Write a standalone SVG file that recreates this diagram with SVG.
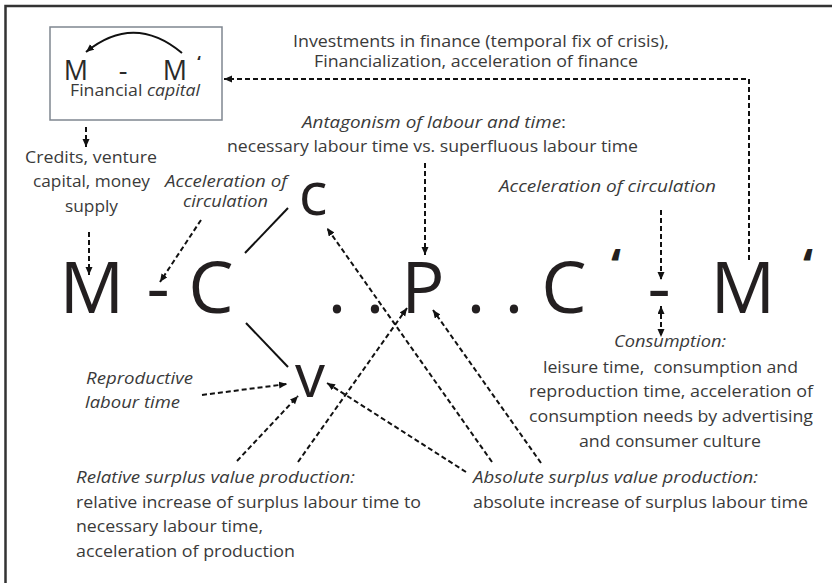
<svg xmlns="http://www.w3.org/2000/svg" width="832" height="583" viewBox="0 0 832 583">
  <style>
    .t { font-family: "Open Sans", "Noto Sans", sans-serif; font-size: 17px; fill: #3a3a3a; }
    .i { font-style: italic; }
    .big { font-family: "Open Sans", "Noto Sans", sans-serif; font-size: 72px; fill: #231f20; text-anchor: middle; }
    .mid { font-family: "Open Sans", "Noto Sans", sans-serif; font-size: 60px; fill: #231f20; text-anchor: middle; }
    .q { font-family: "Open Sans", "Noto Sans", sans-serif; font-size: 46px; font-weight: 700; fill: #231f20; text-anchor: middle; }
    .bx { font-family: "Open Sans", "Noto Sans", sans-serif; font-size: 27px; fill: #2a2a2a; text-anchor: middle; }
    .bq { font-family: "Open Sans", "Noto Sans", sans-serif; font-size: 16px; font-weight: 700; fill: #2a2a2a; text-anchor: middle; }
    .d { fill: none; stroke: #111; stroke-width: 2; stroke-dasharray: 5 3; }
    .s { fill: none; stroke: #111; stroke-width: 2; }
    .a { marker-end: url(#ah); }
  </style>
  <defs>
    <marker id="ah" markerUnits="userSpaceOnUse" markerWidth="9" markerHeight="8" refX="8" refY="3.5" orient="auto-start-reverse">
      <path d="M0,0 L8,3.5 L0,7 z" fill="#111"/>
    </marker>
  </defs>

  <path d="M5.5,583 V6 H832" fill="none" stroke="#333" stroke-width="2.5"/>

  <g id="financial-capital">
    <rect x="50" y="27" width="172" height="93" fill="#fff" stroke="#7f8690" stroke-width="1.5"/>
    <path d="M182,53 Q134,13 86,52" class="s a"/>
    <text class="bx" x="76" y="80">M</text>
    <text class="bx" x="123" y="80">-</text>
    <text class="bx" x="175" y="80">M</text>
    <text class="bq" x="199" y="68">‘</text>
    <text class="t" x="70" y="96" textLength="130" lengthAdjust="spacingAndGlyphs">Financial <tspan class="i">capital</tspan></text>
  </g>

  <g id="formula">
    <text class="big" x="92" y="313">M</text>
    <text class="big" x="158" y="313">-</text>
    <text class="big" x="211" y="313">C</text>
    <text class="big" x="337" y="313">.</text>
    <text class="big" x="375" y="313">.</text>
    <text class="big" x="423" y="313">P</text>
    <text class="big" x="476" y="313">.</text>
    <text class="big" x="514" y="313">.</text>
    <text class="big" x="564" y="313">C</text>
    <text class="q" x="616" y="282">‘</text>
    <text class="big" x="659" y="313">-</text>
    <text class="big" x="743" y="313">M</text>
    <text class="q" x="808" y="282">‘</text>
  </g>

  <g id="node-c">
    <text class="mid" x="313" y="215">c</text>
  </g>
  <g id="node-v">
    <text class="mid" x="310" y="397">v</text>
  </g>

  <g id="label-finance">
    <text class="t" x="293" y="47" textLength="376" lengthAdjust="spacingAndGlyphs">Investments in finance (temporal fix of crisis),</text>
    <text class="t" x="314" y="67" textLength="324" lengthAdjust="spacingAndGlyphs">Financialization, acceleration of finance</text>
  </g>
  <g id="label-antagonism">
    <text class="t" x="302" y="128" textLength="264" lengthAdjust="spacingAndGlyphs"><tspan class="i">Antagonism of labour and time</tspan>:</text>
    <text class="t" x="227" y="152" textLength="411" lengthAdjust="spacingAndGlyphs">necessary labour time vs. superfluous labour time</text>
  </g>
  <g id="label-credits">
    <text class="t" x="25" y="163" textLength="132" lengthAdjust="spacingAndGlyphs">Credits, venture</text>
    <text class="t" x="33" y="187" textLength="117" lengthAdjust="spacingAndGlyphs">capital, money</text>
    <text class="t" x="65" y="212" textLength="53" lengthAdjust="spacingAndGlyphs">supply</text>
  </g>
  <g id="label-acc-left">
    <text class="t i" x="165" y="187" textLength="122" lengthAdjust="spacingAndGlyphs">Acceleration of</text>
    <text class="t i" x="183" y="207" textLength="85" lengthAdjust="spacingAndGlyphs">circulation</text>
  </g>
  <g id="label-acc-right">
    <text class="t i" x="499" y="192" textLength="217" lengthAdjust="spacingAndGlyphs">Acceleration of circulation</text>
  </g>
  <g id="label-consumption">
    <text class="t i" x="614" y="347" textLength="112" lengthAdjust="spacingAndGlyphs">Consumption:</text>
    <text class="t" x="543" y="373" textLength="255" lengthAdjust="spacingAndGlyphs" xml:space="preserve">leisure time,  consumption and</text>
    <text class="t" x="529" y="397" textLength="284" lengthAdjust="spacingAndGlyphs">reproduction time, acceleration of</text>
    <text class="t" x="529" y="422" textLength="284" lengthAdjust="spacingAndGlyphs">consumption needs by advertising</text>
    <text class="t" x="579" y="447" textLength="182" lengthAdjust="spacingAndGlyphs">and consumer culture</text>
  </g>
  <g id="label-reproductive">
    <text class="t i" x="86" y="384" textLength="107" lengthAdjust="spacingAndGlyphs">Reproductive</text>
    <text class="t i" x="85" y="408" textLength="95" lengthAdjust="spacingAndGlyphs">labour time</text>
  </g>
  <g id="label-relative">
    <text class="t i" x="76" y="483" textLength="279" lengthAdjust="spacingAndGlyphs">Relative surplus value production:</text>
    <text class="t" x="76" y="508" textLength="345" lengthAdjust="spacingAndGlyphs">relative increase of surplus labour time to</text>
    <text class="t" x="76" y="532" textLength="187" lengthAdjust="spacingAndGlyphs">necessary labour time,</text>
    <text class="t" x="76" y="557" textLength="219" lengthAdjust="spacingAndGlyphs">acceleration of production</text>
  </g>
  <g id="label-absolute">
    <text class="t i" x="473" y="483" textLength="285" lengthAdjust="spacingAndGlyphs">Absolute surplus value production:</text>
    <text class="t" x="473" y="508" textLength="335" lengthAdjust="spacingAndGlyphs">absolute increase of surplus labour time</text>
  </g>

  <g id="connectors">
    <path d="M245,253 L288,208" class="s"/>
    <path d="M246,323 L288,367" class="s"/>
    <path d="M749,260 V79 H224" class="d a"/>
    <path d="M86,127 V147" class="d a"/>
    <path d="M89,232 V275" class="d a"/>
    <path d="M201,220 L160,282" class="d a"/>
    <path d="M425,163 V255" class="d a"/>
    <path d="M661,210 V280" class="d a"/>
    <path d="M661,306 V337" class="d a" marker-start="url(#ah)"/>
    <path d="M202,395 L287,384" class="d a"/>
    <path d="M237,461 L298,396" class="d a"/>
    <path d="M298,462 L407,308" class="d a"/>
    <path d="M466,472 L327,383" class="d a"/>
    <path d="M492,462 L327,228" class="d a"/>
    <path d="M541,463 L433,310" class="d a"/>
  </g>
</svg>
